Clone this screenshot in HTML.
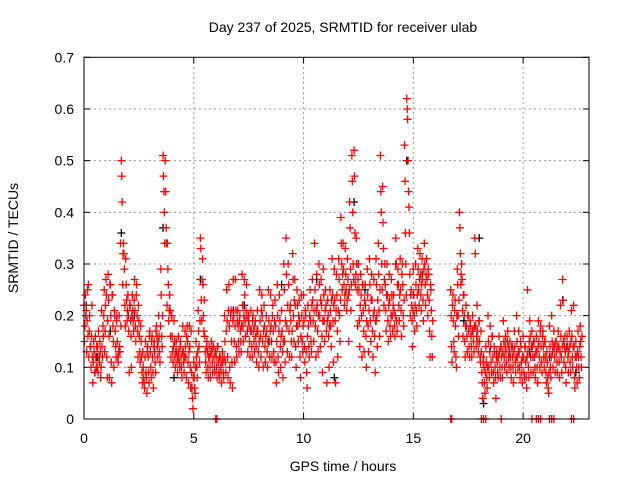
<!DOCTYPE html>
<html><head><meta charset="utf-8"><style>
body{margin:0;background:#fff;width:640px;height:480px;overflow:hidden}
svg{display:block;font-family:"Liberation Sans",sans-serif}
</style></head><body>
<svg id="chart" width="640" height="480" viewBox="0 0 640 480">
<rect width="640" height="480" fill="#fff"/>
<text x="343" y="32" font-size="14" text-anchor="middle">Day 237 of 2025, SRMTID for receiver ulab</text>
<text x="343" y="471" font-size="14" text-anchor="middle">GPS time / hours</text>
<text transform="translate(18,238) rotate(-90)" font-size="14" text-anchor="middle">SRMTID / TECUs</text>
<g id="grid"></g>
<g id="ticks"></g>
<g id="black"></g>
<g id="red"></g>
<g id="zeros"></g>
<rect x="84" y="57.3" width="505" height="361.7" fill="none" stroke="#000" stroke-width="1"/>
</svg>
<script>
const xTicks=[0,5,10,15,20];
const yTicks=[0,0.1,0.2,0.3,0.4,0.5,0.6,0.7];
const yTickLabels=["0","0.1","0.2","0.3","0.4","0.5","0.6","0.7"];
const redHours=[0.0,0.1,0.2,0.3,0.4,0.5,0.6,0.7,0.8,0.9,1.0,1.1,1.2,1.3,1.4,1.5,1.6,1.7,1.8,1.9,2.0,2.1,2.2,2.3,2.4,2.5,2.6,2.7,2.8,2.9,3.0,3.1,3.2,3.3,3.4,3.5,3.6,3.7,3.8,3.9,4.0,4.1,4.2,4.3,4.4,4.5,4.6,4.7,4.8,4.9,5.0,5.1,5.2,5.3,5.4,5.5,5.6,5.7,5.8,5.9,6.0,6.1,6.2,6.3,6.4,6.5,6.6,6.7,6.8,6.9,7.0,7.1,7.2,7.3,7.4,7.5,7.6,7.7,7.8,7.9,8.0,8.1,8.2,8.3,8.4,8.5,8.6,8.7,8.8,8.9,9.0,9.1,9.2,9.3,9.4,9.5,9.6,9.7,9.8,9.9,10.0,10.1,10.2,10.3,10.4,10.5,10.6,10.7,10.8,10.9,11.0,11.1,11.2,11.3,11.4,11.5,11.6,11.7,11.8,11.9,12.0,12.1,12.2,12.3,12.4,12.5,12.6,12.7,12.8,12.9,13.0,13.1,13.2,13.3,13.4,13.5,13.6,13.7,13.8,13.9,14.0,14.1,14.2,14.3,14.4,14.5,14.6,14.7,14.8,14.9,15.0,15.1,15.2,15.3,15.4,15.5,15.6,15.7,15.8,16.7,16.8,16.9,17.0,17.1,17.2,17.3,17.4,17.5,17.6,17.7,17.8,17.9,18.0,18.1,18.2,18.3,18.4,18.5,18.6,18.7,18.8,18.9,19.0,19.1,19.2,19.3,19.4,19.5,19.6,19.7,19.8,19.9,20.0,20.1,20.2,20.3,20.4,20.5,20.6,20.7,20.8,20.9,21.0,21.1,21.2,21.3,21.4,21.5,21.6,21.7,21.8,21.9,22.0,22.1,22.2,22.3,22.4,22.5,22.6];
const redValues=[
[0.22,0.15,0.18,0.24,0.20],[0.21,0.13,0.19,0.25,0.16],[0.26,0.12,0.17,0.20,0.14],[0.14,0.10,0.16,0.22,0.12],[0.07,0.11,0.15,0.13,0.09],[0.09,0.16,0.12,0.10,0.14],[0.10,0.14,0.09,0.17,0.12],[0.11,0.15,0.13,0.08,0.10],[0.21,0.14,0.12,0.18,0.16],[0.20,0.25,0.13,0.17,0.22],
[0.27,0.24,0.12,0.08,0.19],[0.28,0.23,0.16,0.08,0.26],[0.26,0.20,0.11,0.07,0.24],[0.24,0.18,0.15,0.10,0.21],[0.20,0.17,0.14,0.12,0.19],[0.20,0.15,0.12,0.11,0.13],[0.20,0.14,0.13,0.34,0.18],[0.50,0.47,0.42,0.26,0.32],[0.34,0.32,0.29,0.22,0.18],[0.31,0.26,0.23,0.19,0.21],
[0.24,0.20,0.17,0.09,0.22],[0.22,0.19,0.16,0.10,0.20],[0.24,0.21,0.19,0.17,0.23],[0.27,0.21,0.18,0.15,0.24],[0.26,0.20,0.17,0.12,0.22],[0.19,0.16,0.13,0.11,0.18],[0.15,0.12,0.09,0.07,0.13],[0.10,0.08,0.07,0.06,0.12],[0.15,0.09,0.08,0.05,0.13],[0.14,0.12,0.09,0.07,0.16],
[0.17,0.13,0.10,0.08,0.15],[0.16,0.12,0.09,0.06,0.14],[0.15,0.13,0.11,0.09,0.17],[0.18,0.16,0.14,0.12,0.15],[0.20,0.16,0.13,0.11,0.18],[0.29,0.24,0.16,0.14,0.20],[0.51,0.47,0.44,0.40,0.34],[0.50,0.44,0.37,0.34,0.22],[0.34,0.29,0.26,0.19,0.21],[0.24,0.21,0.16,0.12,0.20],
[0.20,0.16,0.13,0.11,0.14],[0.19,0.15,0.12,0.10,0.13],[0.15,0.13,0.11,0.09,0.12],[0.16,0.13,0.11,0.10,0.14],[0.15,0.12,0.10,0.08,0.13],[0.18,0.13,0.11,0.09,0.12],[0.17,0.14,0.12,0.08,0.16],[0.18,0.15,0.11,0.07,0.13],[0.18,0.14,0.10,0.06,0.17],[0.09,0.06,0.04,0.02,0.08],
[0.11,0.08,0.06,0.05,0.10],[0.15,0.12,0.10,0.08,0.13],[0.21,0.17,0.14,0.11,0.19],[0.35,0.33,0.23,0.19,0.27],[0.31,0.26,0.20,0.17,0.23],[0.16,0.13,0.11,0.09,0.14],[0.15,0.13,0.10,0.08,0.12],[0.14,0.12,0.10,0.08,0.13],[0.15,0.13,0.11,0.09,0.14],[0.14,0.12,0.10,0.09,0.13],
[0.13,0.12,0.10,0.08,0.14],[0.14,0.11,0.09,0.08,0.12],[0.12,0.10,0.09,0.07,0.11],[0.13,0.11,0.09,0.08,0.12],[0.20,0.15,0.11,0.09,0.17],[0.25,0.19,0.12,0.08,0.21],[0.26,0.18,0.10,0.07,0.20],[0.21,0.15,0.11,0.06,0.19],[0.27,0.20,0.15,0.11,0.18],[0.27,0.21,0.14,0.12,0.19],
[0.21,0.18,0.15,0.13,0.19],[0.20,0.17,0.15,0.13,0.18],[0.28,0.22,0.18,0.15,0.20],[0.27,0.24,0.19,0.16,0.21],[0.26,0.20,0.17,0.13,0.19],[0.20,0.18,0.15,0.12,0.17],[0.21,0.17,0.14,0.12,0.19],[0.20,0.17,0.15,0.13,0.18],[0.19,0.16,0.14,0.11,0.17],[0.21,0.17,0.13,0.10,0.15],
[0.25,0.19,0.16,0.12,0.21],[0.24,0.20,0.15,0.10,0.17],[0.22,0.18,0.14,0.11,0.16],[0.20,0.17,0.13,0.10,0.15],[0.25,0.19,0.15,0.12,0.17],[0.24,0.18,0.15,0.12,0.20],[0.22,0.17,0.13,0.11,0.19],[0.23,0.18,0.11,0.07,0.15],[0.26,0.20,0.12,0.09,0.17],[0.24,0.19,0.14,0.10,0.16],
[0.21,0.17,0.13,0.08,0.15],[0.30,0.25,0.15,0.11,0.19],[0.35,0.28,0.18,0.13,0.22],[0.30,0.26,0.17,0.12,0.21],[0.22,0.19,0.15,0.12,0.17],[0.32,0.27,0.20,0.15,0.23],[0.27,0.22,0.14,0.10,0.18],[0.25,0.22,0.18,0.15,0.20],[0.23,0.19,0.12,0.08,0.16],[0.24,0.20,0.15,0.13,0.18],
[0.24,0.19,0.14,0.11,0.21],[0.20,0.13,0.09,0.06,0.16],[0.22,0.18,0.14,0.12,0.20],[0.25,0.19,0.15,0.13,0.22],[0.27,0.23,0.19,0.15,0.21],[0.34,0.25,0.18,0.12,0.21],[0.28,0.22,0.17,0.13,0.20],[0.30,0.26,0.20,0.14,0.23],[0.27,0.22,0.16,0.09,0.19],[0.29,0.24,0.19,0.15,0.21],
[0.25,0.22,0.17,0.07,0.19],[0.23,0.20,0.16,0.10,0.18],[0.25,0.21,0.18,0.14,0.23],[0.31,0.24,0.19,0.11,0.22],[0.29,0.23,0.19,0.07,0.21],[0.28,0.24,0.17,0.12,0.21],[0.31,0.27,0.20,0.15,0.23],[0.39,0.34,0.30,0.25,0.28],[0.34,0.29,0.26,0.22,0.24],[0.33,0.28,0.25,0.21,0.23],
[0.31,0.27,0.24,0.15,0.25],[0.42,0.37,0.29,0.21,0.26],[0.51,0.46,0.40,0.30,0.27],[0.52,0.47,0.36,0.26,0.28],[0.35,0.30,0.25,0.18,0.27],[0.30,0.25,0.19,0.14,0.22],[0.28,0.24,0.20,0.12,0.26],[0.26,0.21,0.17,0.13,0.23],[0.26,0.22,0.16,0.10,0.19],[0.29,0.24,0.18,0.13,0.21],
[0.31,0.26,0.19,0.15,0.23],[0.28,0.23,0.17,0.12,0.20],[0.27,0.21,0.16,0.09,0.19],[0.31,0.26,0.20,0.14,0.23],[0.34,0.28,0.21,0.16,0.25],[0.51,0.44,0.40,0.30,0.25],[0.45,0.38,0.33,0.22,0.27],[0.30,0.26,0.21,0.17,0.24],[0.30,0.24,0.19,0.15,0.22],[0.28,0.23,0.18,0.16,0.20],
[0.27,0.24,0.20,0.17,0.22],[0.24,0.21,0.18,0.16,0.20],[0.35,0.30,0.19,0.17,0.26],[0.29,0.26,0.22,0.19,0.24],[0.31,0.25,0.21,0.16,0.28],[0.30,0.26,0.20,0.18,0.23],[0.53,0.46,0.36,0.30,0.24],[0.62,0.60,0.58,0.50,0.44],[0.41,0.36,0.28,0.20,0.24],[0.25,0.22,0.19,0.14,0.21],
[0.29,0.24,0.20,0.17,0.22],[0.30,0.26,0.21,0.18,0.24],[0.33,0.29,0.25,0.22,0.27],[0.32,0.28,0.24,0.21,0.26],[0.31,0.27,0.23,0.19,0.29],[0.34,0.30,0.26,0.22,0.28],[0.31,0.27,0.24,0.20,0.29],[0.28,0.23,0.17,0.12,0.26],[0.25,0.21,0.16,0.12,0.19],
[0.25,0.20,0.14,0.11,0.22],[0.24,0.19,0.15,0.13,0.21],[0.23,0.18,0.12,0.10,0.20],[0.29,0.26,0.20,0.16,0.23],[0.40,0.37,0.32,0.26,0.28],[0.30,0.27,0.21,0.16,0.24],[0.24,0.20,0.15,0.12,0.18],[0.22,0.18,0.16,0.13,0.20],[0.20,0.17,0.14,0.12,0.19],[0.18,0.16,0.14,0.12,0.17],
[0.20,0.17,0.15,0.13,0.18],[0.35,0.32,0.18,0.14,0.16],[0.22,0.17,0.15,0.13,0.19],[0.19,0.15,0.12,0.11,0.17],[0.13,0.09,0.07,0.04,0.11],[0.12,0.10,0.07,0.05,0.09],[0.14,0.11,0.08,0.06,0.10],[0.20,0.15,0.10,0.08,0.13],[0.18,0.14,0.11,0.09,0.16],[0.16,0.12,0.09,0.07,0.14],
[0.13,0.10,0.08,0.04,0.12],[0.13,0.11,0.09,0.08,0.12],[0.16,0.13,0.10,0.08,0.14],[0.14,0.12,0.10,0.08,0.13],[0.19,0.15,0.12,0.10,0.14],[0.16,0.13,0.11,0.09,0.15],[0.17,0.14,0.12,0.10,0.13],[0.15,0.12,0.10,0.08,0.14],[0.14,0.12,0.10,0.07,0.13],[0.17,0.14,0.11,0.09,0.12],
[0.20,0.15,0.12,0.10,0.13],[0.17,0.13,0.10,0.08,0.15],[0.14,0.11,0.09,0.07,0.12],[0.16,0.12,0.09,0.08,0.14],[0.14,0.11,0.08,0.06,0.12],[0.25,0.13,0.10,0.08,0.15],[0.19,0.16,0.12,0.09,0.14],[0.17,0.14,0.12,0.09,0.15],[0.15,0.12,0.10,0.08,0.13],[0.16,0.13,0.10,0.07,0.14],
[0.19,0.15,0.12,0.10,0.17],[0.18,0.14,0.11,0.09,0.16],[0.17,0.14,0.12,0.10,0.15],[0.15,0.12,0.09,0.07,0.13],[0.11,0.08,0.06,0.05,0.09],[0.18,0.14,0.10,0.08,0.12],[0.20,0.15,0.13,0.10,0.14],[0.17,0.14,0.12,0.09,0.15],[0.15,0.13,0.11,0.09,0.14],[0.17,0.14,0.11,0.08,0.13],
[0.22,0.16,0.12,0.09,0.14],[0.27,0.23,0.15,0.11,0.14],[0.16,0.13,0.10,0.07,0.14],[0.16,0.14,0.12,0.09,0.13],[0.17,0.14,0.11,0.09,0.15],[0.21,0.16,0.12,0.10,0.14],[0.22,0.14,0.08,0.06,0.12],[0.15,0.12,0.10,0.07,0.13],[0.17,0.12,0.10,0.08,0.14],[0.18,0.15,0.12,0.10,0.16]];
const blackHours=[0.1,0.6,1.7,2.3,3.6,4.1,5.3,7.3,9.0,10.6,11.4,12.3,13.3,14.2,14.7,15.4,18.0,18.2,19.5,21.2,21.8,22.4,1.2,6.8,8.4,12.8,15.0,17.3,20.3];
const blackValues=[0.22,0.12,0.36,0.20,0.37,0.08,0.27,0.22,0.26,0.27,0.08,0.42,0.19,0.30,0.50,0.28,0.35,0.03,0.14,0.12,0.23,0.09,0.17,0.21,0.15,0.25,0.24,0.19,0.13];
const zeroHours=[6.0,6.05,16.7,16.75,18.1,18.2,18.3,19.0,20.4,20.6,20.7,20.8,21.2,21.3,21.4,22.2,22.3];

const X0=84,X1=589,Y0=419,Y1=57.3,XMAX=23,YMAX=0.7;
function xs(h){return X0+(h/XMAX)*(X1-X0);}
function ys(v){return Y0-(v/YMAX)*(Y0-Y1);}
const NS="http://www.w3.org/2000/svg";
function mk(tag,attrs,parent){const e=document.createElementNS(NS,tag);for(const k in attrs)e.setAttribute(k,attrs[k]);parent.appendChild(e);return e;}
const grid=document.getElementById('grid'),ticks=document.getElementById('ticks');
xTicks.forEach(t=>{const x=xs(t);
 if(t>0){const g=mk('line',{x1:x,y1:Y0,x2:x,y2:Y1,stroke:'#999','stroke-dasharray':'2,3'},grid);
 
 }
 mk('line',{x1:x,y1:Y0,x2:x,y2:Y0-6,stroke:'#000'},ticks);
 mk('line',{x1:x,y1:Y1,x2:x,y2:Y1+6,stroke:'#000'},ticks);
 const l=mk('text',{x:x,y:443,'font-size':14,'text-anchor':'middle'},ticks);l.textContent=String(t);
 
 
});
yTicks.forEach((t,i)=>{const y=ys(t);
 if(t>0&&t<YMAX){const g=mk('line',{x1:X0,y1:y,x2:X1,y2:y,stroke:'#999','stroke-dasharray':'2,3'},grid);
 
 }
 mk('line',{x1:X0,y1:y,x2:X0+6,y2:y,stroke:'#000'},ticks);
 mk('line',{x1:X1,y1:y,x2:X1-6,y2:y,stroke:'#000'},ticks);
 const l=mk('text',{x:74,y:y+5,'font-size':14,'text-anchor':'end'},ticks);l.textContent=yTickLabels[i];
 
 
});
function plus(g,x,y,c){const p=mk('path',{d:`M${x-4},${y}h8M${x},${y-4}v8`,stroke:c,'stroke-width':1.3,fill:'none'},g);return p;}
const blk=document.getElementById('black');
blackHours.forEach((h,i)=>{const p=plus(blk,xs(h),ys(blackValues[i]),'#000');
 
 });
const red=document.getElementById('red');
redHours.forEach((h,i)=>{redValues[i].forEach((v,k)=>{
 const p=plus(red,xs(h+k*0.02),ys(v),'#f00');
 
 });});
const zg=document.getElementById('zeros');
zeroHours.forEach(h=>{const p=plus(zg,xs(h),ys(0),'#f00');
 
 });
</script>
</body></html>
